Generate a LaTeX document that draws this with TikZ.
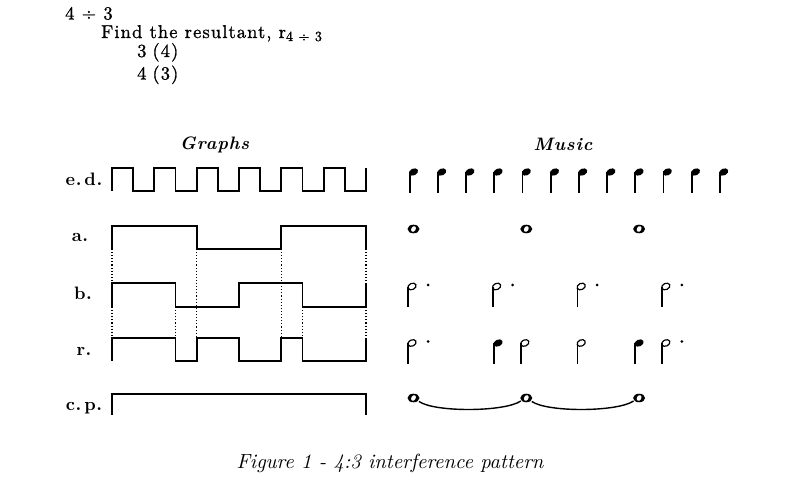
\documentclass[tikz,border=0pt]{standalone}
\usepackage{fontspec}
\setmainfont{lmroman10-regular.otf}[BoldFont=lmroman10-bold.otf, ItalicFont=lmroman10-italic.otf, BoldItalicFont=lmroman10-bolditalic.otf]
\tikzset{
  x=1pt, y=-1pt,
  wave/.style={line width=1.7pt, line join=miter},
  guide/.style={line width=1.1pt, dotted},
  lbl/.style={font=\fontsize{18}{18}\selectfont\bfseries\addfontfeatures{LetterSpace=3}, anchor=base, inner sep=0pt},
  head/.style={font=\fontsize{18}{18}\selectfont\bfseries\itshape\addfontfeatures{LetterSpace=5}, anchor=base, inner sep=0pt},
  toptxt/.style={font=\fontsize{18.5}{18.5}\selectfont\addfontfeatures{LetterSpace=6,FakeBold=1}, anchor=base west, inner sep=0pt},
  tie/.style={line width=1.4pt},
  qnote/.pic={\fill[rotate=25] (0,0) ellipse [x radius=4.8pt, y radius=3.4pt];
              \draw[line width=1.8pt] (-3.8,0.5) -- (-3.8,21);},
  hnote/.pic={\draw[line width=1.2pt, rotate=25] (0,0) ellipse [x radius=4.3pt, y radius=3.1pt];
              \draw[line width=1.7pt] (-3.8,0.5) -- (-3.8,21);},
  dhnote/.pic={\draw[line width=1.2pt, rotate=25] (0,0) ellipse [x radius=4.3pt, y radius=3.1pt];
              \draw[line width=1.7pt] (-3.8,0.5) -- (-3.8,21);
              \fill (16,-1.5) circle (1.5pt);},
  wnote/.pic={\fill (0,0) ellipse [x radius=6pt, y radius=4.3pt];
              \fill[white, rotate=-30] (0,0) ellipse [x radius=2.2pt, y radius=3pt];
              \coordinate (-r) at (5.5,3.5); \coordinate (-l) at (-5.5,3);},
}
\begin{document}
\begin{tikzpicture}
\useasboundingbox (0,0) rectangle (788,494);
\fill[white] (0,0) rectangle (788,494);

% top text
\node[toptxt] (t1) at (65,19.5) {4 ÷ 3};
\node[toptxt] (t2) at (101,38) {Find the resultant, r\raisebox{-3pt}{\fontsize{14}{14}\selectfont\addfontfeatures{LetterSpace=6,FakeBold=1}4 ÷ 3}};
\node[toptxt] (t3) at (137,57) {3\hspace{6pt}(4)};
\node[toptxt] (t4) at (137,79.5) {4\hspace{6pt}(3)};

% column headings
\node[head] (hg) at (214.5,150) {Graphs};
\node[head] (hm) at (563,151) {Music};

% row labels
\node[lbl] (led) at (84,186) {e.\,d.};
\node[lbl] (la) at (80,242) {a.};
\node[lbl] (lb) at (83,300) {b.};
\node[lbl] (lr) at (84,356) {r.};
\node[lbl] (lcp) at (84,411) {c.\,p.};

% graphs
\draw[wave] (112,191)--(112,168)--(133.17,168)--(133.17,191)--(154.33,191)--(154.33,168)
  --(175.5,168)--(175.5,191)--(196.67,191)--(196.67,168)--(217.83,168)--(217.83,191)
  --(239,191)--(239,168)--(260.17,168)--(260.17,191)--(281.33,191)--(281.33,168)
  --(302.5,168)--(302.5,191)--(323.67,191)--(323.67,168)--(344.83,168)--(344.83,191)
  --(366,191)--(366,168);
\draw[wave] (112,249)--(112,226)--(196.67,226)--(196.67,249)--(281.33,249)--(281.33,226)--(366,226)--(366,249);
\draw[wave] (112,307)--(112,283)--(175.5,283)--(175.5,307)--(239,307)--(239,283)--(302.5,283)--(302.5,307)--(366,307)--(366,283);
\draw[wave] (112,361)--(112,338)--(175.5,338)--(175.5,361)--(196.67,361)--(196.67,338)--(239,338)--(239,361)
  --(281.33,361)--(281.33,338)--(302.5,338)--(302.5,361)--(366,361)--(366,338);
\draw[wave] (112,415)--(112,394)--(366,394)--(366,415);

% dotted guides
\draw[guide] (112,249)--(112,283) (112,307)--(112,338);
\draw[guide] (196.67,249)--(196.67,338);
\draw[guide] (281.33,249)--(281.33,338);
\draw[guide] (366,249)--(366,283) (366,307)--(366,338);
\draw[guide] (175.5,307)--(175.5,338);
\draw[guide] (302.5,307)--(302.5,338);

% music: e.d.
\foreach \k in {0,...,11} \pic at ({413.5+28.2*\k},172) {qnote};
% a.
\foreach \k in {0,4,8} \pic at ({413.5+28.2*\k},229) {wnote};
% b.
\foreach \k in {0,3,6,9} \pic at ({412+28.2*\k},286.5) {dhnote};
% r.
\pic at ({412+28.2*0},343) {dhnote};
\pic at ({413.5+28.2*3},343) {qnote};
\pic at ({412+28.2*4},343) {hnote};
\pic at ({412+28.2*6},343) {hnote};
\pic at ({413.5+28.2*8},343) {qnote};
\pic at ({412+28.2*9},343) {dhnote};
% c.p.
\pic (cp1) at ({413.5},398) {wnote};
\pic (cp2) at ({413.5+28.2*4},398) {wnote};
\pic (cp3) at ({413.5+28.2*8},398) {wnote};
\draw[tie] (cp1-r) .. controls +(16,11) and +(-16,11) .. (cp2-l);
\draw[tie] (cp2-r) .. controls +(16,11) and +(-16,11) .. (cp3-l);

% caption
\node[font=\fontsize{20.5}{20.5}\selectfont\itshape, anchor=base, inner sep=0pt] (cap) at (390,469) {Figure 1 - 4:3 interference pattern};
\end{tikzpicture}
\end{document}
